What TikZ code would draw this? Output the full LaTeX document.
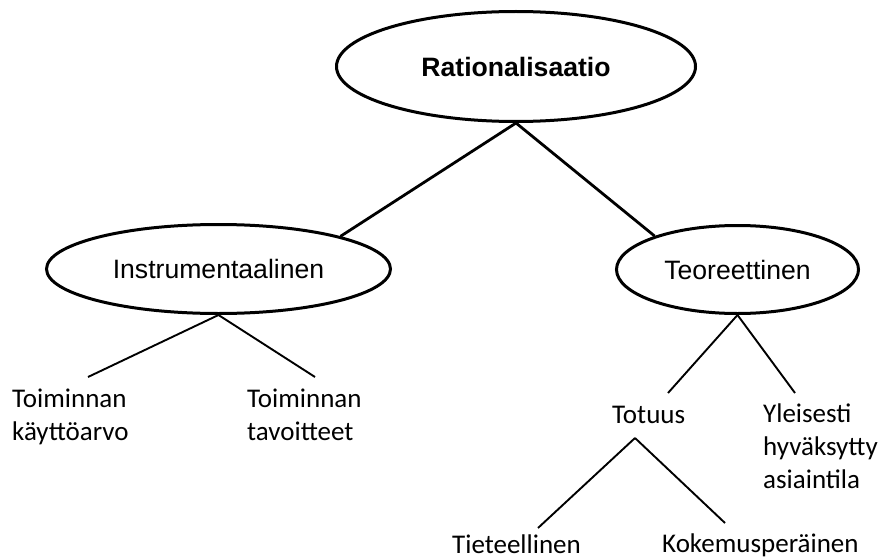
\documentclass[tikz,border=0pt]{standalone}
\usepackage{fontspec}
\setmainfont{Carlito}
\newfontfamily\ellfont{Liberation Sans}
\usetikzlibrary{shapes.geometric}
\begin{document}
\begin{tikzpicture}[x=1pt,y=-1pt,
  concept/.style={ellipse, draw=black, line width=3pt, fill=white, inner sep=0pt,
    font=\ellfont\fontsize{26.6}{32}\selectfont},
  leaf/.style={anchor=base west, inner sep=0pt, align=left,
    font=\fontsize{27}{33}\selectfont},
  upper/.style={line width=2.8pt},
  lower/.style={line width=1.9pt}]
\useasboundingbox (0,0) rectangle (880,559);

% concept ellipses
\node[concept, minimum width=359pt, minimum height=110pt] (root) at (516,66.5) {\textbf{Rationalisaatio}};
\node[concept, minimum width=344pt, minimum height=89pt] (inst) at (218.5,269) {Instrumentaalinen};
\node[concept, minimum width=242pt, minimum height=88pt] (teor) at (737.5,269.5) {Teoreettinen};

% plain text leaves (multi-line nodes are placed by the baseline of their last line)
\node[leaf] (kaytto) at (12,440) {Toiminnan\\käyttöarvo};
\node[leaf] (tavoite) at (247,440) {Toiminnan\\tavoitteet};
\node[leaf] (totuus) at (612,423) {Totuus};
\node[leaf] (yleis) at (763,488) {Yleisesti\\hyväksytty\\asiaintila};
\node[leaf] (tiet) at (452,553) {Tieteellinen};
\node[leaf] (kokem) at (662,552) {Kokemusperäinen};

% free ends of the branch lines
\coordinate (kaytto-e) at (88,377);
\coordinate (tavoite-e) at (315,377);
\coordinate (totuus-e) at (668,393);
\coordinate (yleis-e) at (795,393);
\coordinate (totuus-s) at (635,438);
\coordinate (tiet-e) at (538,528);
\coordinate (kokem-e) at (725,523);

% branches
\draw[upper] (root.south) -- (inst.15.3);
\draw[upper] (root.south) -- (teor.158.5);
\draw[lower] (inst.south) -- (kaytto-e);
\draw[lower] (inst.south) -- (tavoite-e);
\draw[lower] (teor.south) -- (totuus-e);
\draw[lower] (teor.south) -- (yleis-e);
\draw[lower] (totuus-s) -- (tiet-e);
\draw[lower] (totuus-s) -- (kokem-e);
\end{tikzpicture}
\end{document}
